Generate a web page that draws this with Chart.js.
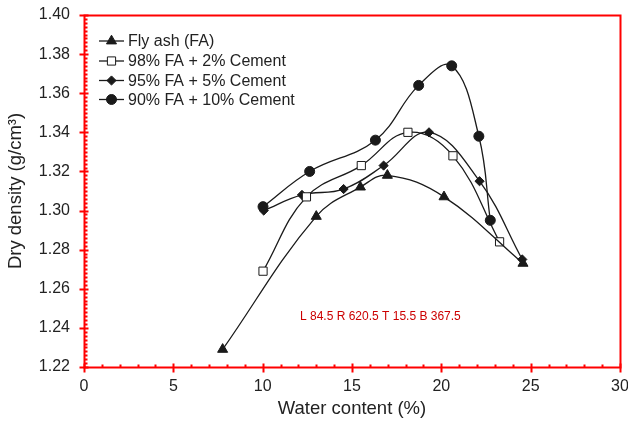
<!DOCTYPE html>
<html>
<head>
<meta charset="utf-8">
<script src="https://cdn.jsdelivr.net/npm/chart.js@4.4.1/dist/chart.umd.min.js"></script>
<style>
  html, body { margin: 0; padding: 0; background: #fff; }
  #wrap { width: 628px; height: 425px; }
</style>
</head>
<body>
<div id="wrap"><canvas id="c" width="628" height="425"></canvas></div>
<script>
// Compaction curves: water content (%) vs dry density (g/cm3)
const seriesLabels = ['Fly ash (FA)', '98% FA + 2% Cement', '95% FA + 5% Cement', '90% FA + 10% Cement'];

const waterFA   = [7.76, 13.0, 15.47, 16.98, 20.15, 24.57];
const densityFA = [1.229, 1.297, 1.312, 1.318, 1.307, 1.273];

const waterC2   = [10.02, 12.45, 15.52, 18.13, 20.65, 23.26];
const densityC2 = [1.269, 1.307, 1.323, 1.340, 1.328, 1.284];

const waterC5   = [10.06, 12.2, 14.53, 16.77, 19.31, 22.14, 24.53];
const densityC5 = [1.300, 1.308, 1.311, 1.323, 1.340, 1.315, 1.275];

const waterC10   = [10.02, 12.63, 16.31, 18.73, 20.58, 22.1, 22.74];
const densityC10 = [1.302, 1.320, 1.336, 1.364, 1.374, 1.338, 1.295];

const xTickValues = [0, 5, 10, 15, 20, 25, 30];
const yTickValues = [1.22, 1.24, 1.26, 1.28, 1.30, 1.32, 1.34, 1.36, 1.38, 1.40];

const pts = (xs, ys) => xs.map((x, i) => ({ x: x, y: ys[i] }));

const INK = '#1a1a1a';
const TEXT = '#222';
const FONT = "'Liberation Sans', Arial, sans-serif";

const markerStyles = [
  { pointStyle: 'triangle', radius: 5.8, fill: INK },
  { pointStyle: 'rect', radius: 5.8, fill: '#fff' },
  { pointStyle: 'rectRot', radius: 4.6, fill: INK },
  { pointStyle: 'circle', radius: 5, fill: INK }
];

const seriesData = [
  pts(waterFA, densityFA),
  pts(waterC2, densityC2),
  pts(waterC5, densityC5),
  pts(waterC10, densityC10)
];

const datasets = seriesData.map((d, i) => ({
  label: seriesLabels[i],
  data: d,
  borderColor: INK,
  borderWidth: 1.3,
  tension: 0.4,
  fill: false,
  pointStyle: markerStyles[i].pointStyle,
  pointRadius: markerStyles[i].radius,
  pointBackgroundColor: markerStyles[i].fill,
  pointBorderColor: INK,
  pointBorderWidth: 1
}));

function drawMarker(ctx, style, x, y, r, fill) {
  ctx.save();
  ctx.beginPath();
  if (style === 'triangle') {
    let rad = 0;
    ctx.moveTo(x + Math.sin(rad) * r, y - Math.cos(rad) * r);
    rad += 2 * Math.PI / 3;
    ctx.lineTo(x + Math.sin(rad) * r, y - Math.cos(rad) * r);
    rad += 2 * Math.PI / 3;
    ctx.lineTo(x + Math.sin(rad) * r, y - Math.cos(rad) * r);
    ctx.closePath();
  } else if (style === 'rect') {
    const s = Math.SQRT1_2 * r;
    ctx.rect(x - s, y - s, 2 * s, 2 * s);
  } else if (style === 'rectRot') {
    ctx.moveTo(x - r, y);
    ctx.lineTo(x, y - r);
    ctx.lineTo(x + r, y);
    ctx.lineTo(x, y + r);
    ctx.closePath();
  } else {
    ctx.arc(x, y, r, 0, Math.PI * 2);
  }
  ctx.fillStyle = fill;
  ctx.fill();
  ctx.strokeStyle = INK;
  ctx.lineWidth = 1;
  ctx.stroke();
  ctx.restore();
}

// Plot frame plus tick marks (major ticks cross the axis, minor ticks point inward)
const framePlugin = {
  id: 'frame',
  afterDraw(chart) {
    const ctx = chart.ctx;
    const a = chart.chartArea;
    const xs = chart.scales.x, ys = chart.scales.y;
    const L = Math.round(a.left) + 0.5, R = Math.round(a.right) + 0.5;
    const T = Math.round(a.top) + 0.5, B = Math.round(a.bottom) + 0.5;
    ctx.save();
    ctx.strokeStyle = '#ff0000';
    ctx.lineWidth = 2;
    ctx.beginPath();
    ctx.moveTo(L, T);
    ctx.lineTo(R, T);
    ctx.lineTo(R, B);
    ctx.lineTo(L, B);
    ctx.closePath();
    ctx.stroke();
    ctx.beginPath();
    for (let v = 0; v <= 30; v += 1) {
      const px = Math.round(xs.getPixelForValue(v)) + 0.5;
      const major = v % 5 === 0;
      ctx.moveTo(px, major ? B + 5 : B);
      ctx.lineTo(px, B - (major ? 4 : 3));
    }
    for (let k = 0; k <= 90; k++) {
      const py = Math.round(ys.getPixelForValue(1.22 + k * 0.002)) + 0.5;
      const major = k % 10 === 0;
      ctx.moveTo(major ? L - 5 : L, py);
      ctx.lineTo(L + (major ? 4 : 3), py);
    }
    ctx.stroke();
    ctx.fillStyle = '#c00';
    ctx.font = '12px sans-serif';
    ctx.fillText('L ' + L + ' R ' + R + ' T ' + T + ' B ' + B, 300, 320);
    ctx.restore();
  }
};

// Legend inside the plot: line with marker, then the series name
const legendPlugin = {
  id: 'inlineLegend',
  afterDraw(chart) {
    const ctx = chart.ctx;
    const lx0 = 99, lx1 = 124, tx = 128;
    const rows = [41, 61, 80.5, 99.5];
    ctx.save();
    ctx.font = '16px ' + FONT;
    ctx.textBaseline = 'middle';
    chart.data.datasets.forEach((ds, i) => {
      const y = rows[i];
      ctx.beginPath();
      ctx.strokeStyle = INK;
      ctx.lineWidth = 1.3;
      ctx.moveTo(lx0, y);
      ctx.lineTo(lx1, y);
      ctx.stroke();
      const m = markerStyles[i];
      drawMarker(ctx, m.pointStyle, (lx0 + lx1) / 2, y, m.radius, m.fill);
      ctx.fillStyle = TEXT;
      ctx.fillText(ds.label, tx, y + 1);
    });
    ctx.restore();
  }
};

new Chart(document.getElementById('c'), {
  type: 'line',
  data: { datasets: datasets },
  options: {
    responsive: false,
    animation: false,
    layout: { padding: { top: 15, right: 8, bottom: 0, left: 0 } },
    plugins: { legend: { display: false }, tooltip: { enabled: false } },
    scales: {
      x: {
        type: 'linear',
        min: 0, max: 30,
        afterBuildTicks: s => { s.ticks = xTickValues.map(v => ({ value: v })); },
        afterFit: s => { s.height = 58; s.paddingLeft = 0; s.paddingRight = 0; },
        grid: { display: false, drawTicks: false },
        border: { display: false },
        ticks: { padding: 10, color: TEXT, font: { family: FONT, size: 16 }, maxRotation: 0 },
        title: { display: true, text: 'Water content (%)', color: TEXT,
                 font: { family: FONT, size: 18.5 }, padding: { top: 0, bottom: 5 } }
      },
      y: {
        type: 'linear',
        min: 1.22, max: 1.40,
        afterBuildTicks: s => { s.ticks = yTickValues.map(v => ({ value: v })); },
        afterFit: s => { s.width = 84; s.paddingTop = 0; s.paddingBottom = 0; },
        grid: { display: false, drawTicks: false },
        border: { display: false },
        ticks: { padding: 14, color: TEXT, font: { family: FONT, size: 16 },
                 callback: v => Number(v).toFixed(2) },
        title: { display: true, text: 'Dry density (g/cm³)', color: TEXT,
                 font: { family: FONT, size: 18.5 }, padding: { top: 5, bottom: 0 } }
      }
    }
  },
  plugins: [framePlugin, legendPlugin]
});
</script>
</body>
</html>
